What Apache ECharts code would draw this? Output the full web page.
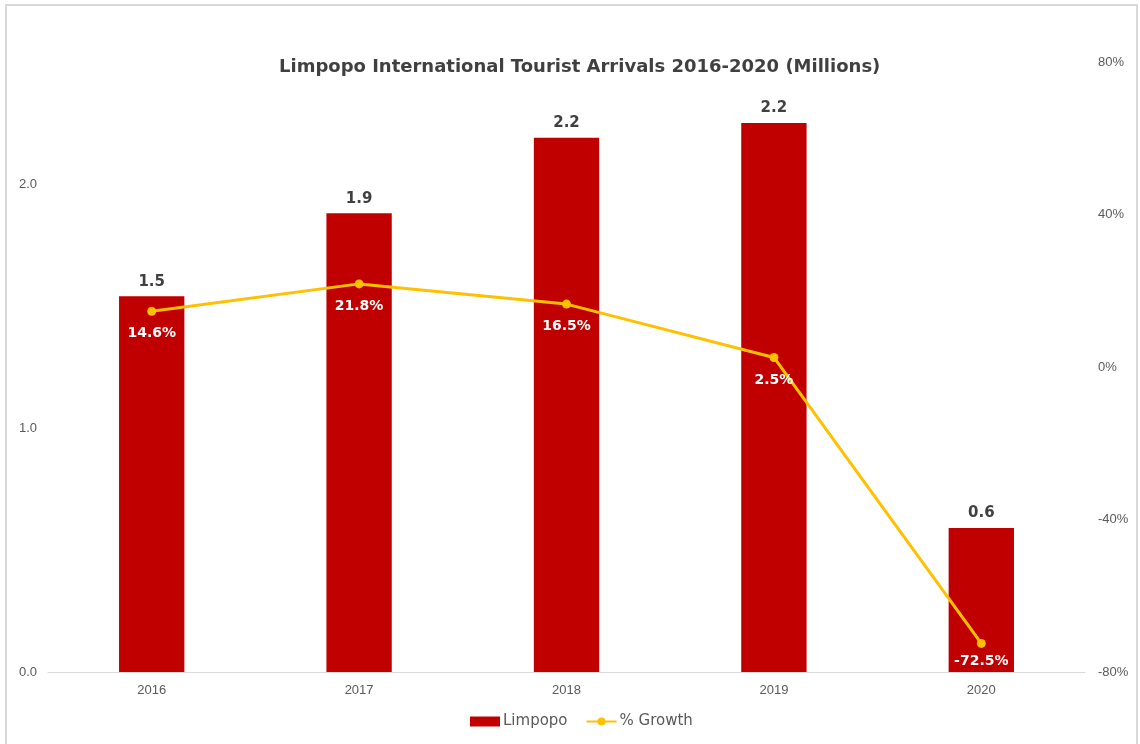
<!DOCTYPE html>
<html>
<head>
<meta charset="utf-8">
<script src="https://cdn.jsdelivr.net/npm/echarts@6/dist/echarts.min.js"></script>
<style>
  html, body { margin: 0; padding: 0; background: #fff; }
  #chart { width: 1140px; height: 744px; }
</style>
</head>
<body>
<div id="chart"></div>
<script>
// Limpopo international tourist arrivals (millions) and year-on-year growth (%)
const years = ['2016', '2017', '2018', '2019', '2020'];
const arrivals = [1.54, 1.88, 2.19, 2.25, 0.59];
const arrivalLabels = ['1.5', '1.9', '2.2', '2.2', '0.6'];
const growth = [14.6, 21.8, 16.5, 2.5, -72.5];

const chart = echarts.init(document.getElementById('chart'));

// the last growth label sits closer to its point so it stays inside the plot
const growthData = growth.map((v, i) => i === growth.length - 1
  ? { value: v, label: { distance: 6 } }
  : v);

chart.setOption({
  backgroundColor: '#ffffff',
  animation: false,
  title: {
    text: 'Limpopo International Tourist Arrivals 2016-2020 (Millions)',
    left: 274,
    top: 53,
    textStyle: {
      fontFamily: 'DejaVu Sans',
      fontSize: 18,
      fontWeight: 'bold',
      color: '#404040'
    }
  },
  graphic: [{
    type: 'rect',
    shape: { x: 6, y: 5, width: 1131, height: 742 },
    style: { fill: 'none', stroke: '#d9d9d9', lineWidth: 2 },
    silent: true
  }],
  legend: {
    bottom: 10,
    left: 465,
    itemGap: 18,
    itemWidth: 30,
    itemHeight: 10,
    textStyle: { fontFamily: 'DejaVu Sans', fontSize: 15, color: '#595959', padding: [0, 0, 0, -2] },
    data: [{ name: 'Limpopo', icon: 'rect' }, { name: '% Growth' }]
  },
  grid: { left: 48, right: 55, top: 62, bottom: 72 },
  xAxis: {
    type: 'category',
    data: years,
    axisLine: { lineStyle: { color: '#d9d9d9', width: 1 } },
    axisTick: { show: false },
    axisLabel: { fontFamily: 'Liberation Sans', fontSize: 13, color: '#595959', margin: 12 }
  },
  yAxis: [{
    type: 'value',
    min: 0,
    max: 2.5,
    interval: 1,
    splitLine: { show: false },
    axisLine: { show: false },
    axisTick: { show: false },
    axisLabel: {
      showMaxLabel: false,
      fontFamily: 'Liberation Sans', fontSize: 13, color: '#595959', margin: 11,
      formatter: v => v.toFixed(1)
    }
  }, {
    type: 'value',
    min: -80,
    max: 80,
    interval: 40,
    splitLine: { show: false },
    axisLine: { show: false },
    axisTick: { show: false },
    axisLabel: {
      fontFamily: 'Liberation Sans', fontSize: 13, color: '#595959', margin: 13,
      formatter: '{value}%'
    }
  }],
  series: [{
    name: 'Limpopo',
    type: 'bar',
    yAxisIndex: 0,
    data: arrivals,
    barWidth: '31.5%',
    itemStyle: { color: '#c00000' },
    label: {
      show: true,
      position: 'top',
      distance: 7,
      fontFamily: 'DejaVu Sans',
      fontSize: 15,
      fontWeight: 'bold',
      color: '#404040',
      formatter: p => arrivalLabels[p.dataIndex]
    }
  }, {
    name: '% Growth',
    type: 'line',
    yAxisIndex: 1,
    data: growthData,
    symbol: 'circle',
    symbolSize: 9,
    lineStyle: { color: '#ffc000', width: 3 },
    itemStyle: { color: '#ffc000' },
    z: 3,
    label: {
      show: true,
      position: 'bottom',
      distance: 11,
      fontFamily: 'DejaVu Sans',
      fontSize: 14,
      fontWeight: 'bold',
      color: '#ffffff',
      formatter: p => Number(p.value).toFixed(1) + '%'
    }
  }]
});
</script>
</body>
</html>
